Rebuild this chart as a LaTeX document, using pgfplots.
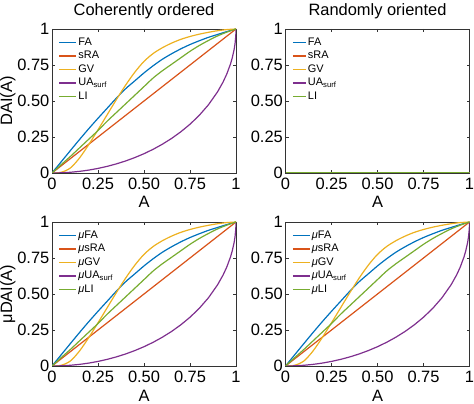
\documentclass[border=0pt]{standalone}
\usepackage{pgfplots}
\pgfplotsset{compat=1.18}
\usepackage{pgfplotstable}
\usepackage{fontspec}
\setmainfont{Liberation Sans}
\definecolor{mB}{rgb}{0,0.447,0.741}
\definecolor{mR}{rgb}{0.850,0.325,0.098}
\definecolor{mY}{rgb}{0.929,0.694,0.125}
\definecolor{mP}{rgb}{0.494,0.184,0.556}
\definecolor{mG}{rgb}{0.466,0.674,0.188}

\pgfplotstableread{
x    FA    sRA   GV    LI
0    0     0     0     0
0.05 0.078 0.05  0.005 0.058
0.10 0.156 0.10  0.035 0.115
0.15 0.233 0.15  0.105 0.175
0.20 0.308 0.20  0.198 0.235
0.25 0.38  0.25  0.30  0.295
0.30 0.45  0.30  0.405 0.36
0.35 0.52  0.35  0.51  0.42
0.40 0.585 0.40  0.61  0.48
0.45 0.64  0.45  0.70  0.54
0.50 0.695 0.50  0.775 0.60
0.55 0.745 0.55  0.83  0.66
0.60 0.79  0.60  0.87  0.71
0.65 0.828 0.65  0.902 0.755
0.70 0.862 0.70  0.928 0.80
0.75 0.892 0.75  0.948 0.845
0.80 0.918 0.80  0.964 0.885
0.85 0.942 0.85  0.977 0.92
0.90 0.962 0.90  0.988 0.952
0.95 0.982 0.95  0.996 0.978
1.00 1     1     1     1
}\data

\pgfplotstableread{
x     UA
0     0
0.05  0.00125
0.10  0.005
0.15  0.0113
0.20  0.0202
0.25  0.0318
0.30  0.0461
0.35  0.0633
0.40  0.0835
0.45  0.1070
0.50  0.1340
0.55  0.1648
0.60  0.2
0.65  0.2401
0.70  0.2859
0.75  0.3386
0.80  0.4
0.85  0.4732
0.90  0.5641
0.93  0.6324
0.95  0.6878
0.97  0.7569
0.98  0.8010
0.99  0.8589
0.995 0.9001
0.999 0.9553
1     1
}\uadata

\pgfplotstableread{
x Z
0 0
1 0
}\zero

\pgfplotsset{
  panel/.style={
    width=184bp, height=144bp, scale only axis,
    xmin=0, xmax=1, ymin=0, ymax=1,
    xtick={0,0.25,0.5,0.75,1}, xticklabels={0,0.25,0.50,0.75,1},
    ytick={0,0.25,0.5,0.75,1}, yticklabels={0,0.25,0.50,0.75,1},
    tick align=inside, xtick pos=both, ytick pos=both,
    xticklabel pos=lower, yticklabel pos=left,
    major tick length=3bp,
    tick style={black!80, line width=0.6bp},
    axis line style={black!80, line width=0.8bp},
    tick label style={font=\fontsize{16.5}{18}\selectfont},
    label style={font=\fontsize{16.5}{18}\selectfont},
    every axis title/.style={font=\fontsize{16.5}{18}\selectfont, at={(axis description cs:0.5,1)}, anchor=base, yshift=13bp, inner sep=0pt},
    xlabel={A},
    xlabel style={at={(axis description cs:0.5,0)}, anchor=base, yshift=-35bp, inner sep=0pt},
    ylabel style={at={(axis description cs:-0.217,0.5)}, anchor=base, inner sep=0pt},
    xticklabel style={anchor=base, yshift=-16.5bp, inner sep=0pt},
    yticklabel style={anchor=east, inner sep=0pt, xshift=-2.5bp},
    legend style={at={(axis description cs:0.035,0.955)}, anchor=north west,
      draw=none, fill=none, inner sep=0pt, row sep=0pt,
      font=\fontsize{11}{13}\selectfont,
      nodes={inner sep=1.5bp, text height=8bp, text depth=2.5bp}},
    legend cell align=left,
    legend image code/.code={\draw[#1, line width=1.3bp] (0bp,0bp) -- (17bp,0bp);},
    every axis plot/.append style={line width=1.2bp, no marks},
  },
  shortleg/.style={legend image code/.code={\draw[#1, line width=1.3bp] (0bp,0bp) -- (13bp,0bp);}},
}

\begin{document}
\begin{tikzpicture}
% top left
\begin{axis}[panel, at={(52bp,231bp)}, anchor=south west,
  title={Coherently ordered}, ylabel={DAI(\=A)}]
\addplot[mB, smooth] table[x=x,y=FA]{\data};
\addplot[mR] table[x=x,y=sRA]{\data};
\addplot[mY, smooth] table[x=x,y=GV]{\data};
\addplot[mP] table[x=x,y=UA]{\uadata};
\addplot[mG, smooth] table[x=x,y=LI]{\data};
\legend{FA,sRA,GV,UA\textsubscript{surf},LI}
\end{axis}
% top right
\begin{axis}[panel, shortleg, at={(285.5bp,231bp)}, anchor=south west,
  title={Randomly oriented}]
\addplot[mB] table[x=x,y=Z]{\zero};
\addplot[mR] table[x=x,y=Z]{\zero};
\addplot[mY] table[x=x,y=Z]{\zero};
\addplot[mP] table[x=x,y=Z]{\zero};
\addplot[mG] table[x=x,y=Z]{\zero};
\legend{FA,sRA,GV,UA\textsubscript{surf},LI}
\end{axis}
% bottom left
\begin{axis}[panel, at={(52bp,38bp)}, anchor=south west,
  ylabel={μDAI(\=A)}]
\addplot[mB, smooth] table[x=x,y=FA]{\data};
\addplot[mR] table[x=x,y=sRA]{\data};
\addplot[mY, smooth] table[x=x,y=GV]{\data};
\addplot[mP] table[x=x,y=UA]{\uadata};
\addplot[mG, smooth] table[x=x,y=LI]{\data};
\legend{\textit{μ}FA,\textit{μ}sRA,\textit{μ}GV,\textit{μ}UA\textsubscript{surf},\textit{μ}LI}
\end{axis}
% bottom right
\begin{axis}[panel, at={(285.5bp,38bp)}, anchor=south west]
\addplot[mB, smooth] table[x=x,y=FA]{\data};
\addplot[mR] table[x=x,y=sRA]{\data};
\addplot[mY, smooth] table[x=x,y=GV]{\data};
\addplot[mP] table[x=x,y=UA]{\uadata};
\addplot[mG, smooth] table[x=x,y=LI]{\data};
\legend{\textit{μ}FA,\textit{μ}sRA,\textit{μ}GV,\textit{μ}UA\textsubscript{surf},\textit{μ}LI}
\end{axis}
\pgfresetboundingbox
\path[use as bounding box] (0,0) rectangle (474bp,404bp);
\end{tikzpicture}
\end{document}
